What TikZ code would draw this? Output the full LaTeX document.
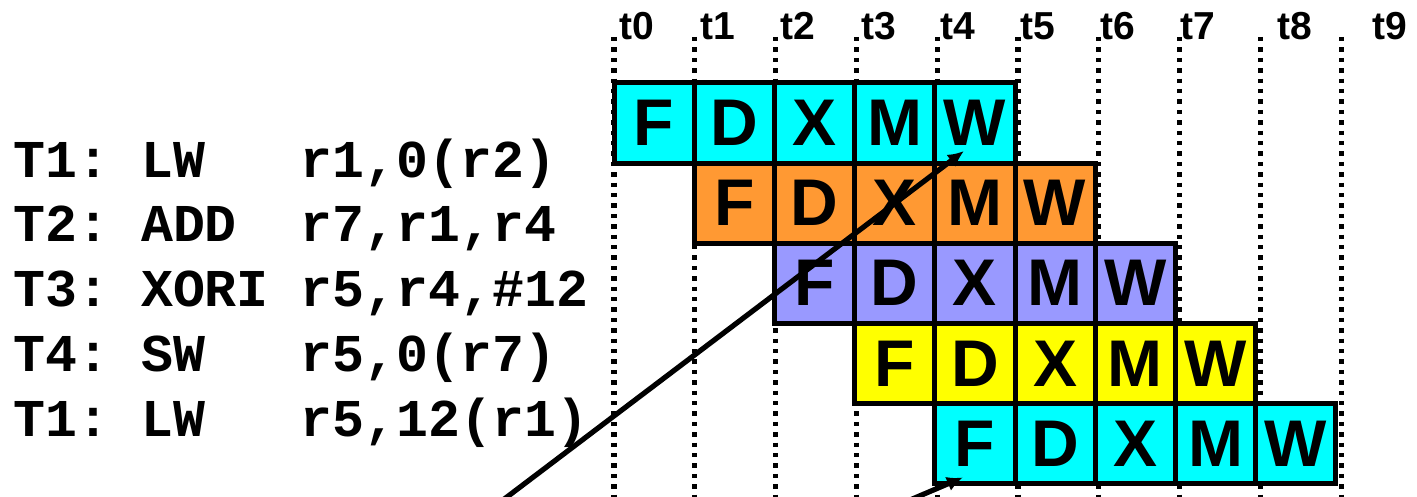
\documentclass[tikz,border=0pt]{standalone}
\usepackage{fontspec}
\setmainfont{Liberation Sans}
\newfontfamily\instrfont{Liberation Mono}
\usetikzlibrary{arrows.meta,calc}
\definecolor{tcyan}{RGB}{0,255,255}
\definecolor{torange}{RGB}{255,153,51}
\definecolor{tpurple}{RGB}{153,153,255}
\definecolor{tyellow}{RGB}{255,255,0}
\tikzset{
  stage/.style={draw,line width=2.5pt,minimum width=40.1pt,minimum height=40.05pt,
    inner sep=0pt,font=\fontsize{33}{33}\selectfont\bfseries},
  instr/.style={anchor=base west,inner sep=0pt,font=\instrfont\fontsize{26.6}{27}\selectfont\bfseries},
  tick/.style={anchor=base west,inner sep=0pt,font=\fontsize{19.5}{20}\selectfont\bfseries},
  timeline/.style={line width=2.6pt,dash pattern=on 2.2pt off 3pt},
  dep/.style={line width=2.6pt,-{Latex[length=8pt,width=7.5pt]}},
}

\begin{document}
\begin{tikzpicture}[x=0.5pt,y=-0.5pt]
   \useasboundingbox (0,0) rectangle (1417,497);
   % Clock ticks
   \foreach \i/\tx in {0/619,1/700,2/780,3/861,4/940,5/1020,6/1100,7/1180,8/1277,9/1372} {
     \draw[timeline] (614+80.8*\i,37) -- (614+80.8*\i,497);
     \node[tick] (t\i) at (\tx,40) {t\i};
   }
   % Pipeline stages
   \foreach \r/\col in {0/tcyan,1/torange,2/tpurple,3/tyellow,4/tcyan}
     \foreach \s [count=\k from 0] in {F,D,X,M,W}
       \node[stage,fill=\col] (s\r\s) at (654.1+80.2*\r+80.2*\k,123.05+80.1*\r) {\s};
   % Instructions
   \node[instr] (i0) at (13,177) {T1:~LW~~~r1,0(r2)};
   \node[instr] (i1) at (13,242) {T2:~ADD~~r7,r1,r4};
   \node[instr] (i2) at (13,306) {T3:~XORI~r5,r4,\#12};
   \node[instr] (i3) at (13,371) {T4:~SW~~~r5,0(r7)};
   \node[instr] (i4) at (13,436) {T1:~LW~~~r5,12(r1)};
   % Arrows
   \coordinate (src0) at (503,500);
   \coordinate (src4) at (910,500);
   \draw[dep] (src0) -- ($(s0W)+(-11,28)$);
   \draw[dep] (src4) -- ($(s4F)+(-12,34)$);
\end{tikzpicture}
\end{document}
